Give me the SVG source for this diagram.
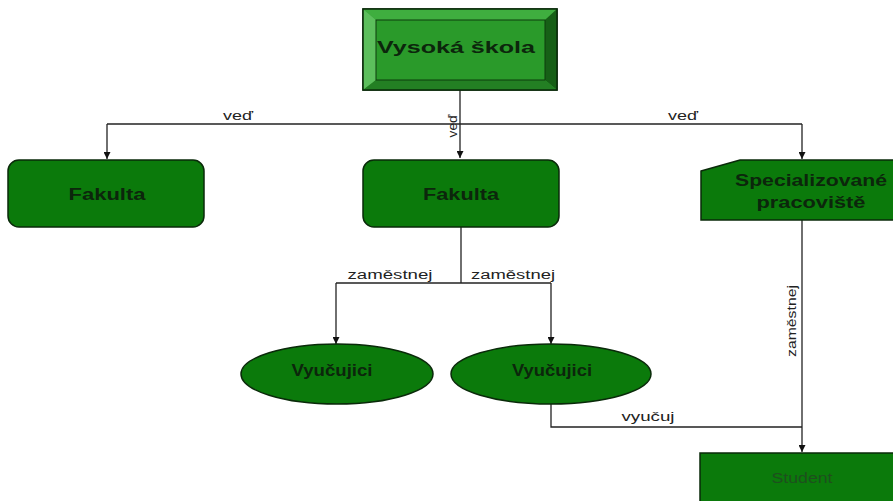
<svg xmlns="http://www.w3.org/2000/svg" width="893" height="501" viewBox="0 0 893 501">
<style>
.node{fill:#0b7a0b;stroke:#0a2a0a;stroke-width:1.5}
.lbl{font-family:"Liberation Sans",Arial,sans-serif;font-size:12px;fill:#222;text-anchor:middle}
.nt{font-family:"Liberation Sans",Arial,sans-serif;font-weight:bold;font-size:16px;fill:#0c260c;text-anchor:middle}
.conn{fill:none;stroke:#222;stroke-width:1.3}
</style>
<defs>
<marker id="arr" markerWidth="8" markerHeight="7" refX="7" refY="3.5" orient="auto" markerUnits="userSpaceOnUse">
<path d="M0,0 L7,3.5 L0,7 Z" fill="#111"/>
</marker>
</defs>
<rect width="893" height="501" fill="#fff"/>
<g id="connectors">
<path class="conn" d="M460,90 V158" marker-end="url(#arr)"/>
<path class="conn" d="M107,124 H802"/>
<path class="conn" d="M107,124 V159" marker-end="url(#arr)"/>
<path class="conn" d="M802,124 V159" marker-end="url(#arr)"/>
<path class="conn" d="M461,227 V283"/>
<path class="conn" d="M336,283 H551"/>
<path class="conn" d="M336,283 V344" marker-end="url(#arr)"/>
<path class="conn" d="M551,283 V344" marker-end="url(#arr)"/>
<path class="conn" d="M802,220 V452" marker-end="url(#arr)"/>
<path class="conn" d="M551,404 V427 H802"/>
<text class="lbl" x="238" y="120" textLength="30" lengthAdjust="spacingAndGlyphs">veď</text>
<text class="lbl" x="683" y="120" textLength="30" lengthAdjust="spacingAndGlyphs">veď</text>
<text class="lbl" transform="translate(457,126) rotate(-90)" textLength="23" lengthAdjust="spacingAndGlyphs">veď</text>
<text class="lbl" x="390" y="279" font-size="13" textLength="85" lengthAdjust="spacingAndGlyphs">zaměstnej</text>
<text class="lbl" x="513" y="279" font-size="13" textLength="84" lengthAdjust="spacingAndGlyphs">zaměstnej</text>
<text class="lbl" transform="translate(796,321) rotate(-90)" textLength="72" lengthAdjust="spacingAndGlyphs">zaměstnej</text>
<text class="lbl" x="648" y="421" textLength="53" lengthAdjust="spacingAndGlyphs">vyučuj</text>
</g>
<g id="vysoka-skola">
<rect x="363" y="9" width="194" height="81" fill="#2e9a2e" stroke="#0a2a0a" stroke-width="1.5"/>
<polygon points="363,9 557,9 545,20 376,20" fill="#3fae3f"/>
<polygon points="363,9 376,20 376,80 363,90" fill="#5cbf5c"/>
<polygon points="557,9 557,90 545,80 545,20" fill="#165f16"/>
<polygon points="363,90 376,80 545,80 557,90" fill="#237f23"/>
<rect x="376" y="20" width="169" height="60" fill="#2a9a2a" stroke="#0d3d0d" stroke-width="1"/>
<rect x="363" y="9" width="194" height="81" fill="none" stroke="#0a2a0a" stroke-width="1.5"/>
<text class="nt" x="456" y="53" textLength="158" lengthAdjust="spacingAndGlyphs">Vysoká škola</text>
</g>
<g id="fakulta-1">
<rect class="node" x="8" y="160" width="196" height="67" rx="11"/>
<text class="nt" x="107" y="200" font-size="15" textLength="77" lengthAdjust="spacingAndGlyphs">Fakulta</text>
</g>
<g id="fakulta-2">
<rect class="node" x="363" y="160" width="196" height="67" rx="11"/>
<text class="nt" x="461" y="200" font-size="15" textLength="76" lengthAdjust="spacingAndGlyphs">Fakulta</text>
</g>
<g id="specializovane">
<polygon class="node" points="701,171 740,160 920,160 920,220 701,220"/>
<text class="nt" x="811" y="186" font-size="15" textLength="152" lengthAdjust="spacingAndGlyphs">Specializované</text>
<text class="nt" x="811" y="208" font-size="15" textLength="109" lengthAdjust="spacingAndGlyphs">pracoviště</text>
</g>
<g id="vyucujici-1">
<ellipse class="node" cx="337" cy="374" rx="96" ry="30"/>
<text class="nt" x="332" y="376" font-size="13" fill="#1a4a1a" textLength="81" lengthAdjust="spacingAndGlyphs">Vyučujici</text>
</g>
<g id="vyucujici-2">
<ellipse class="node" cx="551" cy="374" rx="100" ry="30"/>
<text class="nt" x="552" y="376" font-size="13" fill="#1a4a1a" textLength="80" lengthAdjust="spacingAndGlyphs">Vyučujici</text>
</g>
<g id="student">
<rect class="node" x="700" y="453" width="210" height="60"/>
<text x="802" y="483" font-family="'Liberation Sans',Arial,sans-serif" font-size="14" fill="#1e4f1e" text-anchor="middle" textLength="61" lengthAdjust="spacingAndGlyphs">Student</text>
</g>
</svg>
